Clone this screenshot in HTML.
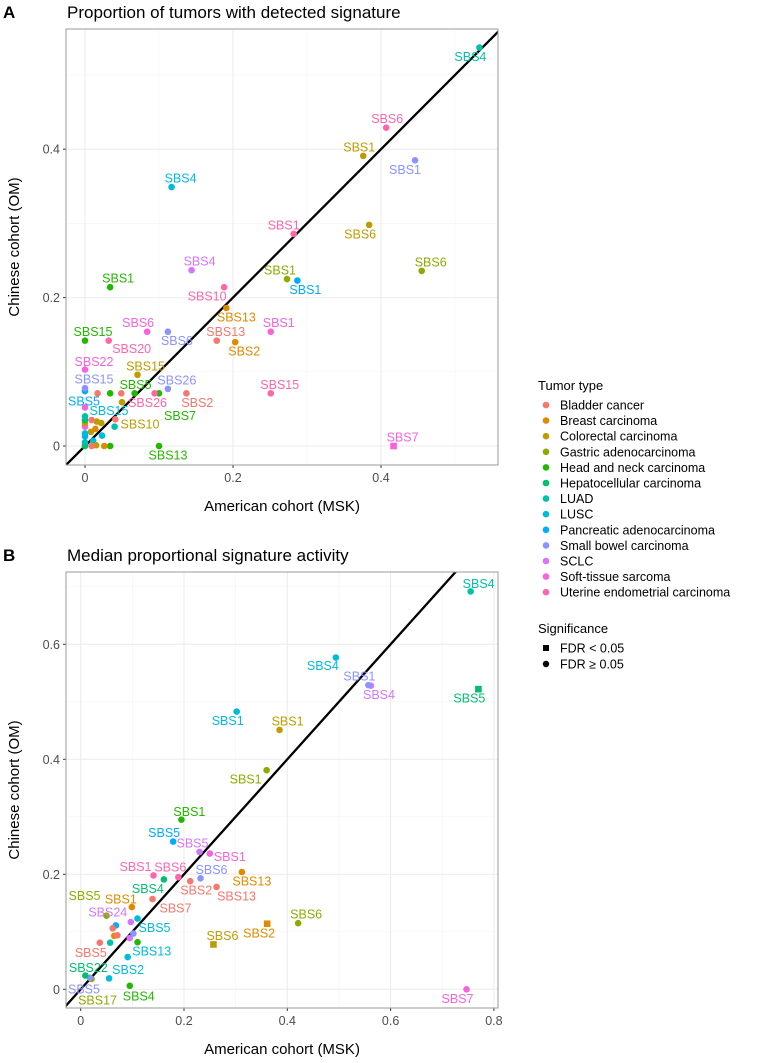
<!DOCTYPE html>
<html><head><meta charset="utf-8"><title>Signature comparison</title>
<style>
html,body{margin:0;padding:0;background:#fff;width:757px;height:1063px;overflow:hidden;}
svg{display:block;font-family:"Liberation Sans",Arial,sans-serif;}
</style></head>
<body>
<svg id="chart" width="757" height="1063" viewBox="0 0 757 1063" xmlns="http://www.w3.org/2000/svg">
<g id="legend"></g>
</svg>
<script>
// ---- shared categories ----
const tumorTypes = ["Bladder cancer","Breast carcinoma","Colorectal carcinoma","Gastric adenocarcinoma","Head and neck carcinoma","Hepatocellular carcinoma","LUAD","LUSC","Pancreatic adenocarcinoma","Small bowel carcinoma","SCLC","Soft-tissue sarcoma","Uterine endometrial carcinoma"];
const tumorColors = ["#F8766D","#E18A00","#BE9C00","#8CAB00","#24B700","#00BE70","#00C1AB","#00BBDA","#00ACFC","#8B93FF","#D575FE","#F962DD","#FF65AC"];

// ---- Panel A data ----
const labelsA = ["SBS4","SBS6","SBS1","SBS1","SBS4","SBS1","SBS6","SBS4","SBS6","SBS1","SBS1","SBS1","SBS10","SBS13","SBS1","SBS6","SBS6","SBS15","SBS20","SBS13","SBS2","SBS22","SBS15","SBS15","SBS26","SBS5","SBS15","SBS2","SBS26","SBS7","SBS5","SBS15","SBS10","SBS7","SBS13",
"","","","","","","","","","","","","","","","","","","","","","","","",""];
const typeA = [6,12,2,9,7,12,2,10,3,3,8,4,12,1,11,11,9,4,12,0,1,11,2,9,9,4,12,0,12,4,8,7,2,11,4,
6,5,2,11,7,8,6,5,0,2,2,1,2,0,2,1,4,0,6,7,0,4,0,8,11];
const xA = [0.533,0.407,0.376,0.446,0.117,0.282,0.384,0.144,0.455,0.273,0.287,0.034,0.188,0.191,0.251,0.084,0.112,0,0.032,0.178,0.203,0,0.071,0,0.112,0.067,0.251,0.137,0.094,0.100,0,0.023,0.050,0.417,0.100,
0,0,0,0,0,0,0,0,0.009,0.016,0.022,0.014,0.008,0.009,0.015,0.026,0.034,0.041,0.040,0.011,0.017,0.034,0.049,0,0];
const yA = [0.537,0.429,0.391,0.385,0.349,0.286,0.298,0.237,0.236,0.225,0.223,0.214,0.214,0.186,0.154,0.154,0.154,0.142,0.142,0.142,0.140,0.103,0.096,0.078,0.077,0.071,0.071,0.071,0.071,0.071,0.074,0.014,0.059,0,0,
0.040,0.035,0.031,0.026,0.017,0.013,0.005,0,0.035,0.033,0.031,0.023,0.019,0,0.001,0,0,0.036,0.026,0.007,0.071,0.071,0.071,0.002,0.052];
const sigA = [0,0,0,0,0,0,0,0,0,0,0,0,0,0,0,0,0,0,0,0,0,0,0,0,0,0,0,0,0,0,0,0,0,1,0,
0,0,0,0,0,0,0,0,0,0,0,0,0,0,0,0,0,0,0,0,0,0,0,0,0];
const offA = [[-9,9],[1,-9],[-4,-9],[-10,9],[9,-9],[-10,-9],[-9,9],[8,-9],[9,-9],[-7,-9],[8,9],[8,-9],[-17,9],[10,9],[8,-9],[-9,-9],[9,9],[8,-9],[23,8],[9,-9],[9,9],[9,-8],[8,-9],[9,-9],[9,-9],[1,-9],[9,-9],[11,9],[-7,9],[21,22],[-1,10],[7,-25],[18,22],[9,-9],[9,9]];
const ticksA = [0,0.2,0.4];
const ticksAy = [0,0.2,0.4];

// ---- Panel B data ----
const labelsB = ["SBS4","SBS4","SBS1","SBS4","SBS5","SBS1","SBS1","SBS1","SBS1","SBS5","SBS5","SBS1","SBS1","SBS6","SBS6","SBS2","SBS13","SBS13","SBS4","SBS7","SBS1","SBS5","SBS24","SBS5","SBS6","SBS2","SBS6","SBS13","SBS5","SBS2","SBS22","SBS5","SBS17","SBS4","SBS7",
"","","","","","","",""];
const typeB = [6,7,9,10,5,7,2,3,4,8,10,11,12,12,9,0,1,0,5,0,1,3,10,7,3,1,2,7,0,7,5,9,3,4,11,
6,0,8,0,1,9,10,4];
const xB = [0.755,0.494,0.557,0.562,0.770,0.302,0.385,0.360,0.195,0.179,0.230,0.250,0.141,0.189,0.232,0.212,0.312,0.263,0.161,0.139,0.099,0.050,0.097,0.110,0.421,0.361,0.257,0.091,0.037,0.055,0.009,0.018,0.021,0.095,0.747,
0.057,0.062,0.068,0.071,0.065,0.102,0.095,0.110];
const yB = [0.692,0.577,0.529,0.528,0.522,0.483,0.451,0.381,0.295,0.257,0.239,0.236,0.198,0.195,0.193,0.188,0.204,0.178,0.191,0.157,0.143,0.128,0.117,0.123,0.115,0.114,0.078,0.056,0.081,0.019,0.024,0.020,0.018,0.006,0,
0.081,0.106,0.111,0.094,0.093,0.097,0.089,0.082];
const sigB = [0,0,0,0,1,0,0,0,0,0,0,0,0,0,0,0,0,0,0,0,0,0,0,0,0,1,1,0,0,0,0,0,0,0,0,
0,0,0,0,0,0,0,0];
const offB = [[8,-8],[-13,8],[-9,-9],[8,9],[-9,9],[-9,9],[8,-9],[-21,9],[8,-8],[-9,-9],[-7,-9],[20,3],[-18,-9],[-8,-10],[11,-9],[6,9],[10,9],[20,9],[-16,9],[23,9],[-11,-8],[-22,-20],[-23,-10],[17,9],[8,-9],[-8,9],[9,-9],[24,-6],[-9,10],[19,-9],[3,-8],[-6,11],[6,21],[9,10],[-9,9]];
const ticksB = [0,0.2,0.4,0.6,0.8];
const ticksBy = [0,0.2,0.4,0.6];

const NS = "http://www.w3.org/2000/svg";
const svg = document.getElementById("chart");
function mk(tag, attrs, parent){
  const e = document.createElementNS(NS, tag);
  for (const k in attrs) e.setAttribute(k, attrs[k]);
  (parent||svg).appendChild(e);
  return e;
}

function panel(cfg){
  const g = mk("g", {});
  
  
  const L=66, R=498, T=cfg.top, B=cfg.top+436;
  const sx = v => cfg.x0 + v*cfg.kx;
  const sy = v => cfg.y0 - v*cfg.ky;
  const bg = mk("rect",{x:L,y:T,width:R-L,height:B-T,fill:"#fff"},g);
  
  
  const minorX = [], minorY = [];
  for (let i=0;i<cfg.xt.length;i++){ minorX.push(cfg.xt[i]+cfg.step/2); }
  for (let i=0;i<cfg.yt.length;i++){ minorY.push(cfg.yt[i]+cfg.step/2); }
  minorX.forEach(v=>{ const px=sx(v); if(px<R&&px>L){ const l=mk("line",{x1:px,x2:px,y1:T,y2:B,stroke:"#F4F4F4","stroke-width":0.6},g);   }});
  minorY.forEach(v=>{ const py=sy(v); if(py>T&&py<B){ const l=mk("line",{x1:L,x2:R,y1:py,y2:py,stroke:"#F4F4F4","stroke-width":0.6},g);   }});
  cfg.xt.forEach(v=>{
    const px=sx(v);
    const l=mk("line",{x1:px,x2:px,y1:T,y2:B,stroke:"#EBEBEB","stroke-width":1},g);
    
    
    const tk=mk("line",{x1:px,x2:px,y1:B,y2:B+3,stroke:"#333","stroke-width":1},g);
    
    
    const t=mk("text",{x:px,y:B+17,"text-anchor":"middle","font-size":12.5,fill:"#4D4D4D"},g);
    t.textContent = String(v);
    
    
  });
  cfg.yt.forEach(v=>{
    const py=sy(v);
    const l=mk("line",{x1:L,x2:R,y1:py,y2:py,stroke:"#EBEBEB","stroke-width":1},g);
    
    
    const tk=mk("line",{x1:L-3,x2:L,y1:py,y2:py,stroke:"#333","stroke-width":1},g);
    
    
    const t=mk("text",{x:L-6,y:py+4.5,"text-anchor":"end","font-size":12.5,fill:"#4D4D4D"},g);
    t.textContent = String(v);
    
    
  });
  const cid = "clip"+cfg.name;
  const cp = mk("clipPath",{id:cid},g);
  mk("rect",{x:L,y:T,width:R-L,height:B-T},cp);
  const lo = -1, hi = 2;
  const line = mk("line",{x1:sx(lo),y1:sy(lo),x2:sx(hi),y2:sy(hi),stroke:"#000","stroke-width":2.3,"clip-path":"url(#"+cid+")"},g);
  
  
  const n = cfg.xs.length;
  for (let i=n-1;i>=0;i--){
    const px=sx(cfg.xs[i]), py=sy(cfg.ys[i]), col=tumorColors[cfg.types[i]];
    let p;
    if (cfg.sig[i]) {
      p = mk("rect",{x:px-3.3,y:py-3.3,width:6.6,height:6.6,fill:col},g);
    } else {
      p = mk("circle",{cx:px,cy:py,r:3.3,fill:col},g);
    }
    
    
  }
  for (let i=0;i<n;i++){
    if (!cfg.labels[i]) continue;
    const o = cfg.off[i] || [0,-9];
    const t = mk("text",{x:sx(cfg.xs[i])+o[0],y:sy(cfg.ys[i])+o[1]+4.5,"text-anchor":"middle","font-size":12.5,fill:tumorColors[cfg.types[i]]},g);
    t.textContent = cfg.labels[i];
    
    
  }
  const border = mk("rect",{x:L,y:T,width:R-L,height:B-T,fill:"none",stroke:"#9A9A9A","stroke-width":1},g);
  
  
  const tag = mk("text",{x:3,y:T-11,"font-size":17,"font-weight":"bold",fill:"#000"},g);
  tag.textContent = cfg.tag;
  
  
  const ti = mk("text",{x:L+1,y:T-11,"font-size":17,fill:"#000"},g);
  ti.textContent = cfg.title;
  
  
  const xt = mk("text",{x:(L+R)/2,y:B+46,"text-anchor":"middle","font-size":15,fill:"#000"},g);
  xt.textContent = "American cohort (MSK)";
  
  
  const yc=(T+B)/2;
  const yt = mk("text",{x:19,y:yc,"text-anchor":"middle","font-size":15,fill:"#000",transform:"rotate(-90 19 "+yc+")"},g);
  yt.textContent = "Chinese cohort (OM)";
  
  
}

panel({name:"panel-a",tag:"A",title:"Proportion of tumors with detected signature",top:29,
  x0:85,kx:740,y0:446,ky:742,step:0.2,xt:ticksA,yt:ticksAy,
  xs:xA,ys:yA,types:typeA,labels:labelsA,sig:sigA,off:offA});
panel({name:"panel-b",tag:"B",title:"Median proportional signature activity",top:572,
  x0:80.7,kx:516.5,y0:989.3,ky:575,step:0.2,xt:ticksB,yt:ticksBy,
  xs:xB,ys:yB,types:typeB,labels:labelsB,sig:sigB,off:offB});

const lg = document.getElementById("legend");
svg.appendChild(lg);
const lt = mk("text",{x:538,y:390,"font-size":13,fill:"#000"},lg);
lt.textContent = "Tumor type";


tumorTypes.forEach((name,i)=>{
  const y = 405 + i*15.6;
  const gi = mk("g",{},lg);
  
  
  mk("circle",{cx:546,cy:y,r:3.3,fill:tumorColors[i]},gi);
  const t = mk("text",{x:560,y:y+4.5,"font-size":12.5,fill:"#000"},gi);
  t.textContent = name;
});
const st = mk("text",{x:538,y:633,"font-size":13,fill:"#000"},lg);
st.textContent = "Significance";


const s1 = mk("g",{},lg);


mk("rect",{x:543,y:645,width:6,height:6,fill:"#000"},s1);
mk("text",{x:560,y:652.5,"font-size":12.5,fill:"#000"},s1).textContent = "FDR < 0.05";
const s2 = mk("g",{},lg);


mk("circle",{cx:546,cy:664,r:3.2,fill:"#000"},s2);
mk("text",{x:560,y:668.5,"font-size":12.5,fill:"#000"},s2).textContent = "FDR \u2265 0.05";
</script>
</body></html>
